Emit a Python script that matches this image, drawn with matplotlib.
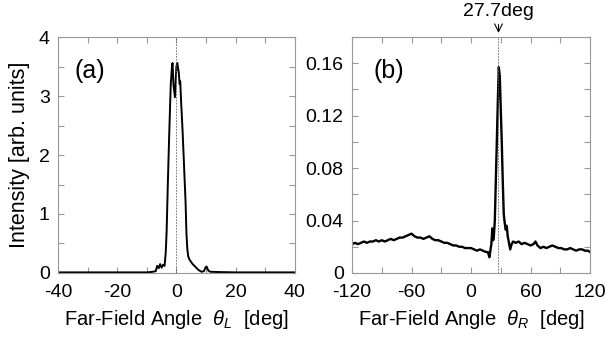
import matplotlib
matplotlib.use("Agg")
import matplotlib.pyplot as plt
from matplotlib.ticker import MultipleLocator, FuncFormatter

plt.rcParams['font.family'] = ['Liberation Sans', 'DejaVu Sans']
plt.rcParams['mathtext.fontset'] = 'custom'
plt.rcParams['mathtext.rm'] = 'Liberation Sans'
plt.rcParams['mathtext.it'] = 'Liberation Sans:italic'
plt.rcParams['axes.unicode_minus'] = False

# (a) left-side far-field pattern
theta_L = [-40, -35, -30, -25, -20, -15, -10, -8, -7, -6.5, -6, -5.5, -5, -4.5, -4,
           -3.6, -3.3, -2.9, -2.4, -1.9, -1.5, -1.3, -1.0, -0.5, 0.0, 0.3, 0.8, 1.1,
           1.3, 1.6, 2.1, 2.6, 3.1, 3.4, 3.7, 4.0, 4.5, 5.5, 6.5, 7.5, 8.5, 9.3, 9.8, 10.2,
           10.8, 11.5, 15, 20, 25, 30, 35, 40]
int_L = [0.01, 0.01, 0.01, 0.01, 0.01, 0.01, 0.01, 0.02, 0.03, 0.12, 0.08, 0.15, 0.09, 0.14, 0.12,
         0.35, 0.70, 1.5, 2.4, 3.2, 3.5, 3.56, 3.2, 2.98, 3.5, 3.56, 3.4, 3.2,
         3.25, 2.9, 2.4, 1.8, 1.2, 0.67, 0.4, 0.28, 0.22, 0.15, 0.10, 0.05, 0.02, 0.03, 0.09, 0.11,
         0.04, 0.02, 0.015, 0.01, 0.01, 0.01, 0.01, 0.01]

# (b) right-side far-field pattern
theta_R = [-120, -117, -114, -111, -108, -105, -102, -99, -96, -93, -90, -87, -84, -81, -78,
           -75, -72, -69, -66, -63, -60, -57, -54, -51, -48, -45, -42, -39, -36, -33,
           -30, -27, -24, -21, -18, -15, -12, -9, -6, -3, 0, 3, 6, 9, 12, 15, 17,
           18.5, 19.5, 20.5, 21.5, 22.3, 23, 24, 25, 26, 27, 28, 29, 30, 31, 32, 33,
           34, 35, 36, 37, 38.5, 39.5, 41, 42.5, 45, 48, 51, 54, 57, 60, 63, 65, 67,
           70, 73, 76, 79, 82, 85, 88, 91, 94, 97, 100, 103, 106, 109, 112, 115, 118, 120]
int_R = [0.022, 0.023, 0.022, 0.023, 0.024, 0.023, 0.024, 0.024, 0.025, 0.024, 0.025, 0.024, 0.025, 0.026, 0.025,
         0.026, 0.027, 0.027, 0.028, 0.029, 0.030, 0.028, 0.027, 0.027, 0.026, 0.027, 0.028, 0.026, 0.025, 0.025,
         0.024, 0.023, 0.023, 0.022, 0.021, 0.021, 0.020, 0.020, 0.019, 0.019, 0.019, 0.018, 0.017, 0.018, 0.017, 0.016, 0.016,
         0.012, 0.017, 0.022, 0.034, 0.025, 0.028, 0.040, 0.070, 0.100, 0.130, 0.157, 0.150, 0.125, 0.100, 0.070, 0.045,
         0.038, 0.033, 0.036, 0.028, 0.022, 0.018, 0.022, 0.024, 0.023, 0.024, 0.022, 0.023, 0.022, 0.021, 0.022, 0.024, 0.021,
         0.019, 0.020, 0.019, 0.020, 0.021, 0.020, 0.019, 0.019, 0.018, 0.018, 0.019, 0.018, 0.017, 0.018, 0.018, 0.017, 0.017, 0.016]

peak_R = 27.7

fig = plt.figure(figsize=(6.07, 3.37), dpi=100)
ax1 = fig.add_axes([0.0956, 0.190, 0.390, 0.700])
ax2 = fig.add_axes([0.580, 0.190, 0.392, 0.700])

tick_fs = 14
label_fs = 14.5
for ax in (ax1, ax2):
    for s in ax.spines.values():
        s.set_color('#999999')
        s.set_linewidth(0.8)
    ax.tick_params(which='both', direction='in', top=True, right=True,
                   color='#999999', length=4, width=0.8, labelsize=tick_fs, pad=6)
    ax.tick_params(axis='x', pad=8)

ax1.plot(theta_L, int_L, color='black', lw=1.4)
ax1.axvline(0, color='#666666', lw=0.6, ls=(0, (2, 1.5)))
ax1.set_xlim(-40, 40)
ax1.set_ylim(0, 4)
ax1.xaxis.set_major_locator(MultipleLocator(20))
ax1.xaxis.set_minor_locator(MultipleLocator(10))
ax1.yaxis.set_major_locator(MultipleLocator(1))
ax1.yaxis.set_minor_locator(MultipleLocator(0.5))
ax1.set_xlabel(r'Far-Field Angle  $\theta_L$  [deg]', fontsize=label_fs, labelpad=5)
ax1.set_ylabel('Intensity [arb. units]', fontsize=15.5, labelpad=6)
ax1.text(0.07, 0.855, '(a)', transform=ax1.transAxes, fontsize=18, va='center')

ax2.plot(theta_R, int_R, color='black', lw=1.7)
ax2.axvline(peak_R, color='#666666', lw=0.6, ls=(0, (2, 1.5)))
ax2.set_xlim(-120, 120)
ax2.set_ylim(0, 0.18)
ax2.xaxis.set_major_locator(MultipleLocator(60))
ax2.xaxis.set_minor_locator(MultipleLocator(30))
ax2.yaxis.set_major_locator(MultipleLocator(0.04))
ax2.yaxis.set_minor_locator(MultipleLocator(0.02))
ax2.yaxis.set_major_formatter(FuncFormatter(lambda v, p: '0' if abs(v) < 1e-9 else f'{v:.2f}'))
ax2.set_xlabel(r'Far-Field Angle  $\theta_R$  [deg]', fontsize=label_fs, labelpad=5)
ax2.text(0.09, 0.855, '(b)', transform=ax2.transAxes, fontsize=18, va='center')
ax2.annotate(f'{peak_R}deg', xy=(peak_R, 0.18), xycoords='data',
             xytext=(0, 12), textcoords='offset points', ha='center', va='bottom',
             fontsize=14, annotation_clip=False,
             arrowprops=dict(arrowstyle='->', color='black', lw=0.8, shrinkA=1, shrinkB=3))

fig.savefig('out.png', dpi=100)
